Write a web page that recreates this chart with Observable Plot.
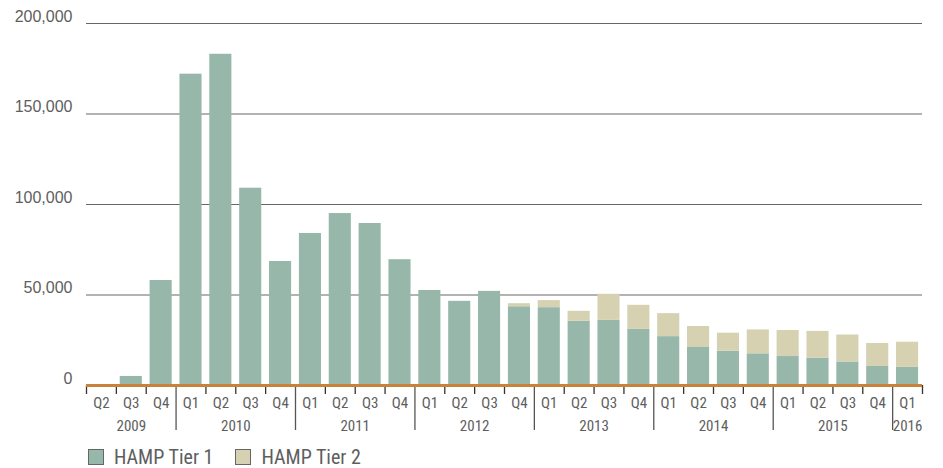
<!DOCTYPE html>
<html>
<head>
<meta charset="utf-8">
<script src="https://cdn.jsdelivr.net/npm/d3@7"></script>
<script src="https://cdn.jsdelivr.net/npm/@observablehq/plot@0.6"></script>
<style>
  body { margin: 0; background: #fff; }
  #legend { display: flex; align-items: center; gap: 0; padding-left: 88px; padding-top: 6px; height: 22px;
    font-family: "Liberation Sans Narrow", "Roboto Condensed", "DejaVu Sans Condensed", sans-serif;
    font-size: 20px; line-height: 20px; color: #5e5e5e; }
  .sw { width: 14px; height: 14px; border: 1.5px solid #666; display: inline-block; margin-right: 10px; }
  .item { display: flex; align-items: center; margin-right: 22px; line-height: 20px; }
</style>
</head>
<body>
<div id="chart"></div>
<div id="legend"></div>
<script>
const years = ["2009","2010","2011","2012","2013","2014","2015","2016"];
const quarterLabels = ["Q2","Q3","Q4",
  "Q1","Q2","Q3","Q4", "Q1","Q2","Q3","Q4", "Q1","Q2","Q3","Q4",
  "Q1","Q2","Q3","Q4", "Q1","Q2","Q3","Q4", "Q1","Q2","Q3","Q4", "Q1"];
const quarterYears = ["2009","2009","2009",
  "2010","2010","2010","2010","2011","2011","2011","2011","2012","2012","2012","2012",
  "2013","2013","2013","2013","2014","2014","2014","2014","2015","2015","2015","2015","2016"];
const tier1 = [0, 5000, 58000, 172000, 183000, 109000, 68500, 84000, 95000, 89500, 69500,
  52500, 46500, 52000, 43500, 43000, 35500, 36000, 31000, 27000, 21000, 19000, 17500,
  16000, 15000, 13000, 10500, 10000];
const tier2 = [0, 0, 0, 0, 0, 0, 0, 0, 0, 0, 0, 0, 0, 0, 1700, 3900, 5500, 14400, 13300,
  12700, 11600, 9900, 13200, 14400, 14900, 14900, 12700, 13900];
const yTicks = [0, 50000, 100000, 150000, 200000];
const seriesNames = ["HAMP Tier 1", "HAMP Tier 2"];
const colors = ["#97b7ab", "#d5d1b1"];

const n = quarterLabels.length;
const rows = [];
quarterLabels.forEach((q, i) => {
  rows.push({i, tier: seriesNames[0], y1: 0, y2: tier1[i]});
  if (tier2[i] > 0) rows.push({i, tier: seriesNames[1], y1: tier1[i], y2: tier1[i] + tier2[i]});
});
const half = 0.37;
const boundaries = d3.range(n + 1).map(k => k - 0.5);
const yearStarts = years.map(y => quarterYears.indexOf(y));
const yearBounds = yearStarts.slice(1).map(s => s - 0.5);
const shortBounds = boundaries.filter(b => !yearBounds.includes(b));
const yearCenters = years.map(y => {
  const idx = quarterYears.map((qy, i) => qy === y ? i : -1).filter(i => i >= 0);
  return d3.mean(idx);
});

const font = '"Liberation Sans Narrow", "Roboto Condensed", "DejaVu Sans Condensed", sans-serif';
const chart = Plot.plot({
  width: 943, height: 440,
  marginLeft: 86, marginRight: 21, marginTop: 23, marginBottom: 55,
  style: {fontFamily: font, fontSize: "15px", color: "#5e5e5e", background: "#fff"},
  x: {domain: [-0.5, n - 0.5], axis: null},
  y: {domain: [0, 200000], axis: null},
  color: {domain: seriesNames, range: colors},
  marks: [
    Plot.ruleY(yTicks.filter(d => d > 0), {stroke: "#666", strokeWidth: 1}),
    Plot.axisY({ticks: yTicks, tickSize: 0, tickPadding: 14, dy: -7,
      tickFormat: d3.format(","), fontSize: 16, fill: "#5e5e5e",
      fontFamily: "Liberation Sans, Arial, sans-serif"}),
    Plot.rect(rows, {x1: d => d.i - half, x2: d => d.i + half, y1: "y1", y2: "y2", fill: "tier"}),
    Plot.axisX({ticks: shortBounds, tickSize: 9, tickFormat: () => "", stroke: "#333", strokeWidth: 1.3}),
    Plot.axisX({ticks: yearBounds, tickSize: 45, tickFormat: () => "", stroke: "#555", strokeWidth: 1.3}),
    Plot.axisX({ticks: d3.range(n), tickSize: 0, tickPadding: 12,
      tickFormat: i => quarterLabels[i], fill: "#5e5e5e"}),
    Plot.axisX({ticks: yearCenters, tickSize: 0, tickPadding: 35,
      tickFormat: c => years[yearCenters.indexOf(c)], fill: "#5e5e5e"}),
    Plot.ruleY([0], {stroke: "#c8823a", strokeWidth: 3})
  ]
});
document.getElementById("chart").appendChild(chart);

const legend = document.getElementById("legend");
seriesNames.forEach((name, k) => {
  const item = document.createElement("span");
  item.className = "item";
  const sw = document.createElement("span");
  sw.className = "sw";
  sw.style.background = colors[k];
  item.appendChild(sw);
  item.appendChild(document.createTextNode(name));
  legend.appendChild(item);
});
</script>
</body>
</html>
